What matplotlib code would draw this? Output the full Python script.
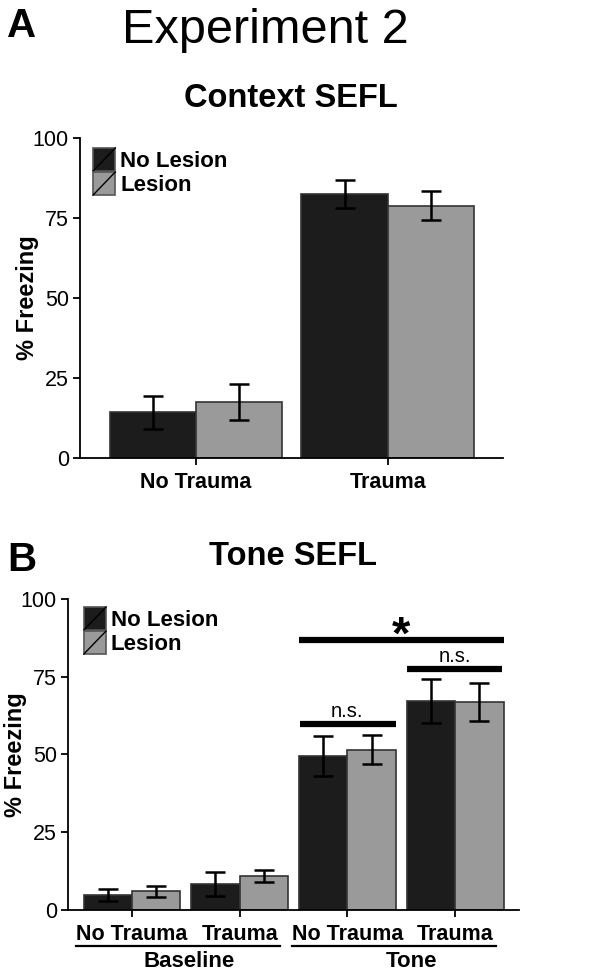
import numpy as np
import matplotlib
matplotlib.use("Agg")
import matplotlib.pyplot as plt
from matplotlib.patches import Rectangle
from matplotlib.lines import Line2D
from matplotlib.legend_handler import HandlerBase
import matplotlib.transforms as mtransforms

plt.rcParams['font.family'] = ['Liberation Sans', 'DejaVu Sans']

# ===========================
# Data
# ===========================

series = ["No Lesion", "Lesion"]

ctx_groups = ["No Trauma", "Trauma"]
ctx_no_lesion = [14.3, 82.4]
ctx_no_lesion_err = [5.1, 4.4]
ctx_lesion = [17.5, 78.8]
ctx_lesion_err = [5.6, 4.5]

tone_groups = ["No Trauma", "Trauma", "No Trauma", "Trauma"]
tone_phases = ["Baseline", "Tone"]
tone_no_lesion = [4.8, 8.3, 49.4, 67.2]
tone_no_lesion_err = [1.9, 3.9, 6.4, 7.2]
tone_lesion = [6.0, 11.0, 51.5, 66.9]
tone_lesion_err = [1.8, 2.0, 4.6, 6.0]

y_ticks = [0, 25, 50, 75, 100]

# ===========================
# Style
# ===========================

DARK = "#1c1c1c"
GRAY = "#9a9a9a"
EDGE = "#333333"
W = 0.45


class DiagHandler(HandlerBase):
    # square legend key with a diagonal stroke
    def create_artists(self, legend, orig_handle, xdescent, ydescent,
                       width, height, fontsize, trans):
        x0, y0 = -xdescent, -ydescent
        r = Rectangle((x0, y0), width, height, facecolor=orig_handle.get_facecolor(),
                      edgecolor="#555555", lw=1.2, transform=trans)
        l = Line2D([x0, x0 + width], [y0, y0 + height], color="black", lw=1.0,
                   transform=trans)
        return [r, l]


def style_axes(ax, xlim, label_x):
    ax.set_xlim(*xlim)
    ax.set_ylim(0, 100)
    ax.set_yticks(y_ticks)
    ax.spines["top"].set_visible(False)
    ax.spines["right"].set_visible(False)
    ax.spines["left"].set_linewidth(1.3)
    ax.spines["bottom"].set_linewidth(1.3)
    ax.tick_params(axis="y", direction="out", length=5, width=1.3,
                   labelsize=15.5, pad=3)
    ax.tick_params(axis="x", direction="out", length=5, width=1.3,
                   labelsize=15.5, pad=5)
    for lab in ax.get_xticklabels():
        lab.set_fontweight("bold")
    ax.set_ylabel("% Freezing", fontsize=17, fontweight="bold")
    # label's right edge sits at label_x (axes coords)
    ax.yaxis.set_label_coords(label_x, 0.5)


def draw_bars(ax, a, a_err, b, b_err):
    x = np.arange(len(a))
    ax.bar(x - W / 2, a, W, color=DARK, edgecolor=EDGE, lw=1.2, zorder=2)
    ax.bar(x + W / 2, b, W, color=GRAY, edgecolor=EDGE, lw=1.2, zorder=2)
    ax.errorbar(x - W / 2, a, yerr=a_err, fmt="none", ecolor="black",
                elinewidth=1.8, capsize=7, capthick=1.8, zorder=3)
    ax.errorbar(x + W / 2, b, yerr=b_err, fmt="none", ecolor="black",
                elinewidth=1.8, capsize=7, capthick=1.8, zorder=3)


def add_legend(ax, anchor):
    handles = [Rectangle((0, 0), 1, 1, facecolor=DARK),
               Rectangle((0, 0), 1, 1, facecolor=GRAY)]
    leg = ax.legend(handles, series, loc="upper left", bbox_to_anchor=anchor,
                    frameon=False, borderaxespad=0, borderpad=0,
                    labelspacing=0.0, handlelength=1.0, handleheight=1.22,
                    handletextpad=0.22,
                    handler_map={Rectangle: DiagHandler()},
                    prop={"size": 16, "weight": "bold"})
    return leg


fig = plt.figure(figsize=(6.05, 9.72), dpi=100)

fig.text(0.035, 0.993, "A", fontsize=29, fontweight="bold", ha="center", va="top")
fig.text(0.438, 0.992, "Experiment 2", fontsize=35, ha="center", va="top")
fig.text(0.481, 0.890, "Context SEFL", fontsize=23.5, fontweight="bold",
         ha="center", va="baseline")

fig.text(0.036, 0.413, "B", fontsize=29, fontweight="bold", ha="center", va="baseline")
fig.text(0.484, 0.419, "Tone SEFL", fontsize=23.5, fontweight="bold",
         ha="center", va="baseline")

# ===========================
# Panel A - Context SEFL
# ===========================

axA = fig.add_axes([0.1322, 0.5288, 0.699, 0.3292])
draw_bars(axA, ctx_no_lesion, ctx_no_lesion_err, ctx_lesion, ctx_lesion_err)
axA.set_xticks(np.arange(len(ctx_groups)))
axA.set_xticklabels(ctx_groups)
style_axes(axA, (-0.604, 1.6), -0.098)
add_legend(axA, (0.031, 0.969))

# ===========================
# Panel B - Tone SEFL
# ===========================

axB = fig.add_axes([0.1124, 0.0638, 0.7455, 0.32])
draw_bars(axB, tone_no_lesion, tone_no_lesion_err, tone_lesion, tone_lesion_err)
axB.set_xticks(np.arange(len(tone_groups)))
axB.set_xticklabels(tone_groups)
style_axes(axB, (-0.594, 3.594), -0.092)
add_legend(axB, (0.035, 0.974))

# significance bars
axB.plot([1.55, 3.45], [86.8, 86.8], color="black", lw=4.5, solid_capstyle="butt")
axB.text(2.5, 84.0, "*", fontsize=34, fontweight="bold", ha="center", va="baseline")
axB.plot([1.56, 2.45], [59.8, 59.8], color="black", lw=4.5, solid_capstyle="butt")
axB.text(2.0, 62.2, "n.s.", fontsize=14.5, ha="center", va="baseline")
axB.plot([2.55, 3.44], [77.5, 77.5], color="black", lw=4.5, solid_capstyle="butt")
axB.text(3.0, 79.8, "n.s.", fontsize=14.5, ha="center", va="baseline")

# phase underlines and labels
trans = mtransforms.blended_transform_factory(axB.transData, axB.transAxes)
for (x0, x1), name, xc in zip([(-0.52, 1.37), (1.49, 3.38)], tone_phases, [0.53, 2.6]):
    axB.add_line(Line2D([x0, x1], [-0.115, -0.115], color="black", lw=1.6,
                        transform=trans, clip_on=False))
    axB.text(xc, -0.183, name, fontsize=16, fontweight="bold", ha="center",
             va="baseline", transform=trans)

fig.savefig("out.png", dpi=100)
